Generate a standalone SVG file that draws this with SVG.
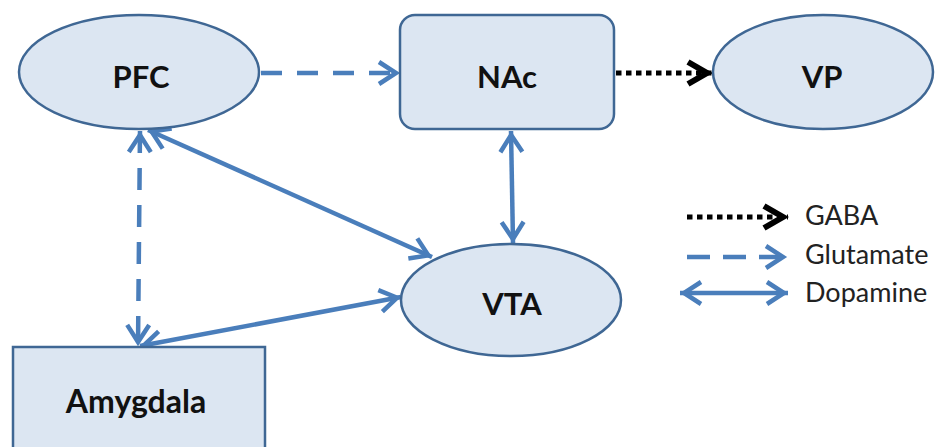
<svg xmlns="http://www.w3.org/2000/svg" width="935" height="447" viewBox="0 0 935 447">
<style>
.node{fill:#dce6f2;stroke:#3f6794;stroke-width:2.5}
.lbl{font-family:Lato,"Open Sans","Liberation Sans",sans-serif;font-weight:bold;font-size:31px;fill:#111;text-anchor:middle}
.leg{font-family:Lato,"Open Sans","Liberation Sans",sans-serif;font-size:27px;fill:#222}
.dopa{fill:none;stroke:#4a7ebb;stroke-width:4.5;marker-start:url(#ab);marker-end:url(#ab)}
.glu{fill:none;stroke:#4a7ebb;stroke-width:4.5;stroke-dasharray:21 15;marker-end:url(#ab)}
.glu2{fill:none;stroke:#4a7ebb;stroke-width:4.5;stroke-dasharray:22 15;marker-start:url(#ab);marker-end:url(#ab)}
.gaba{fill:none;stroke:#000;stroke-width:5;stroke-dasharray:5.5 4.5;marker-end:url(#ak)}
</style>
<defs>
<marker id="ab" markerUnits="userSpaceOnUse" viewBox="-30 -15 34 30" refX="0" refY="0" markerWidth="34" markerHeight="30" orient="auto-start-reverse" overflow="visible">
<path d="M-21,-11 L-4,0 L-21,11" fill="none" stroke="#4a7ebb" stroke-width="4.5"/>
</marker>
<marker id="ak" markerUnits="userSpaceOnUse" viewBox="-30 -15 34 30" refX="0" refY="0" markerWidth="34" markerHeight="30" orient="auto" overflow="visible">
<path d="M-24,-11 L-5,0 L-24,11" fill="none" stroke="#000" stroke-width="6"/>
</marker>
</defs>
<rect width="935" height="447" fill="#fff"/>
<g id="connectors">
<line class="glu" x1="261" y1="73" x2="400" y2="73"/>
<line class="gaba" x1="616" y1="73" x2="712" y2="73"/>
<line class="dopa" x1="148" y1="130" x2="432" y2="257"/>
<line class="glu2" x1="140" y1="131" x2="138" y2="346"/>
<line class="dopa" x1="140" y1="346" x2="401" y2="297"/>
<line class="dopa" x1="511" y1="131" x2="513" y2="243"/>
</g>
<g id="PFC">
<ellipse class="node" cx="139" cy="72" rx="120" ry="57"/>
<text class="lbl" x="141" y="88">PFC</text>
</g>
<g id="NAc">
<rect class="node" x="400" y="15" width="214" height="114" rx="15"/>
<text class="lbl" x="507" y="88">NAc</text>
</g>
<g id="VP">
<ellipse class="node" cx="823" cy="72" rx="110" ry="57"/>
<text class="lbl" x="822" y="88">VP</text>
</g>
<g id="VTA">
<ellipse class="node" cx="511" cy="300" rx="110" ry="56"/>
<text class="lbl" x="512" y="315">VTA</text>
</g>
<g id="Amygdala">
<rect class="node" x="13" y="347" width="252" height="115"/>
<text class="lbl" x="136" y="413" style="font-size:32px">Amygdala</text>
</g>
<g id="legend">
<line class="gaba" x1="687" y1="217" x2="788" y2="217"/>
<text class="leg" x="805" y="225">GABA</text>
<line class="glu" x1="687" y1="257" x2="787" y2="257" style="stroke-dasharray:23 13"/>
<text class="leg" x="805" y="264">Glutamate</text>
<line class="dopa" x1="680" y1="293" x2="788" y2="293"/>
<text class="leg" x="805" y="302">Dopamine</text>
</g>
</svg>
